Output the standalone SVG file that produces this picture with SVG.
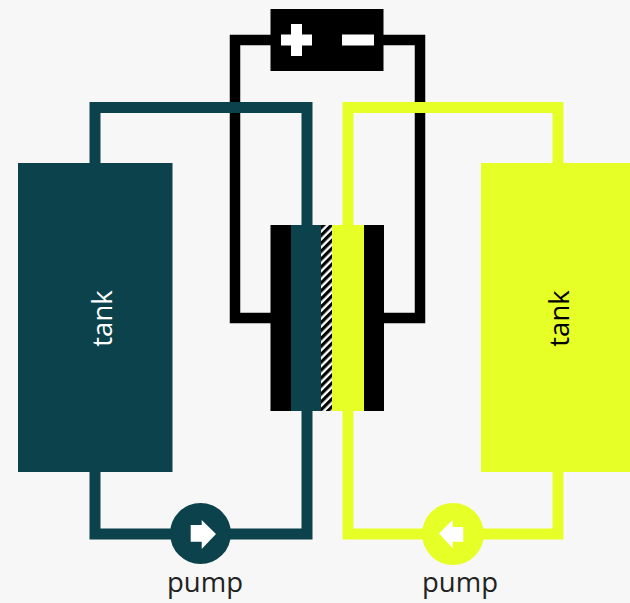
<svg xmlns="http://www.w3.org/2000/svg" width="630" height="603" viewBox="0 0 630 603">
<style>
.wire{fill:none;stroke-linejoin:miter}
.teal{fill:#0c424c}
.lime{fill:#e6ff26}
.blk{fill:#000}
.lbl{font-family:"Open Sans","Noto Sans",sans-serif;font-size:27.500px;text-anchor:middle}
</style>
<defs>
<pattern id="hatch" patternUnits="userSpaceOnUse" width="5.600" height="5.600" patternTransform="rotate(-45)">
<rect width="5.600" height="5.600" fill="#fff"/>
<rect width="5.600" height="3.200" fill="#000"/>
</pattern>
</defs>
<rect width="630" height="603" fill="#f7f7f7"/>
<g id="connectors">
<path class="wire" stroke="#000" stroke-width="10.500" d="M271 40H235V318H271M383 40H420V318H383"/>
<path class="wire" stroke="#0c424c" stroke-width="11" d="M95 164V107.500H307V534H95V472"/>
<path class="wire" stroke="#e6ff26" stroke-width="11" d="M558 164V107.500H348V534H558V472"/>
</g>
<g id="battery">
<rect class="blk" x="270.500" y="9" width="113" height="62"/>
<path fill="#fff" d="M291 24H302V34.500H312V45.500H302V56H291V45.500H281V34.500H291Z"/>
<rect fill="#fff" x="342" y="34.500" width="32" height="11"/>
</g>
<g id="cell">
<rect class="blk" x="270.500" y="225" width="21" height="186"/>
<rect class="teal" x="291" y="225" width="30.500" height="186"/>
<rect x="321" y="225" width="11" height="186" fill="url(#hatch)"/>
<rect class="lime" x="332" y="225" width="32" height="186"/>
<rect class="blk" x="364" y="225" width="20" height="186"/>
</g>
<g id="tank-left">
<rect class="teal" x="18" y="163" width="154.500" height="309"/>
<text class="lbl" fill="#fff" transform="translate(111.500 318.500) rotate(-90)">tank</text>
</g>
<g id="tank-right">
<rect class="lime" x="481" y="163" width="149" height="309"/>
<text class="lbl" fill="#000" transform="translate(569 318.500) rotate(-90)">tank</text>
</g>
<g id="pump-left">
<circle class="teal" cx="200.500" cy="533.500" r="30.500"/>
<path fill="#fff" d="M190.700 525H201.700V520L216 534L201.700 549V541.700H190.700Z"/>
<text class="lbl" fill="#222" x="205" y="592">pump</text>
</g>
<g id="pump-right">
<circle class="lime" cx="453" cy="534" r="31"/>
<path fill="#fff" d="M439 533.500L452.700 520V527H463.300V541.700H452.700V548.300Z"/>
<text class="lbl" fill="#222" x="460" y="592">pump</text>
</g>
</svg>
